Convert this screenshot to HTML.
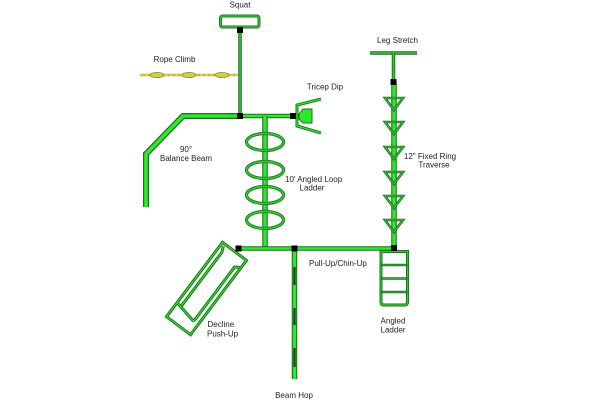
<!DOCTYPE html>
<html><head><meta charset="utf-8"><style>
html,body{margin:0;padding:0;background:#fff;}
svg{display:block;}
text{font-family:"Liberation Sans",Arial,sans-serif;font-size:8px;fill:#222;}
</style></head><body>
<svg width="600" height="400" viewBox="0 0 600 400" xmlns="http://www.w3.org/2000/svg">
<rect width="600" height="400" fill="#fff"/>

<!-- Rope climb -->
<line x1="140" y1="75" x2="240" y2="75" stroke="#b8b83a" stroke-width="2.5"/>
<line x1="140" y1="75" x2="240" y2="75" stroke="#e8e870" stroke-width="1" stroke-dasharray="3 2"/>
<g fill="#d0d048" stroke="#8f8f25" stroke-width="0.8">
<ellipse cx="157" cy="75" rx="7" ry="2.6"/>
<ellipse cx="189" cy="75" rx="7" ry="2.6"/>
<ellipse cx="222" cy="75" rx="7" ry="2.6"/>
</g>

<!-- Squat -->
<rect x="220.5" y="16" width="38.5" height="11" rx="2" fill="#fff" stroke="#1d6f1d" stroke-width="3"/>
<rect x="220.5" y="16" width="38.5" height="11" rx="2" fill="none" stroke="#3cc43c" stroke-width="1.2"/>
<line x1="240" y1="30" x2="240" y2="116" stroke="#1d6f1d" stroke-width="3.5"/>
<line x1="240" y1="30" x2="240" y2="116" stroke="#3cbf3c" stroke-width="1.6"/>

<!-- Balance beam + top horizontal -->
<polyline points="146,207 146,154 183,116 240,116" fill="none" stroke="#1a6e1a" stroke-width="6" stroke-linejoin="miter"/>
<polyline points="146,207 146,154 183,116 240,116" fill="none" stroke="#2ee82e" stroke-width="3.6" stroke-linejoin="miter"/>
<line x1="240" y1="116" x2="293" y2="116" stroke="#1a6e1a" stroke-width="4.5"/>
<line x1="240" y1="116" x2="293" y2="116" stroke="#2ee82e" stroke-width="2.4"/>

<!-- Loop ladder -->
<line x1="265" y1="116" x2="265" y2="248" stroke="#1a6e1a" stroke-width="5.5"/>
<line x1="265" y1="116" x2="265" y2="248" stroke="#2ee82e" stroke-width="3.4"/>
<g fill="none">
<g stroke="#1d7a1d" stroke-width="3.2">
<ellipse cx="265" cy="142" rx="18.5" ry="8.5"/>
<ellipse cx="265" cy="170" rx="18.5" ry="8.5"/>
<ellipse cx="265" cy="195" rx="18.5" ry="8.5"/>
<ellipse cx="265" cy="220" rx="18.5" ry="8.5"/>
</g>
<g stroke="#38cc38" stroke-width="1.4">
<ellipse cx="265" cy="142" rx="18.5" ry="8.5"/>
<ellipse cx="265" cy="170" rx="18.5" ry="8.5"/>
<ellipse cx="265" cy="195" rx="18.5" ry="8.5"/>
<ellipse cx="265" cy="220" rx="18.5" ry="8.5"/>
</g>
</g>

<!-- Tricep dip -->
<polyline points="321,99 297,105 297,126 321,133" fill="none" stroke="#1a6e1a" stroke-width="3"/>
<polyline points="321,99 297,105 297,126 321,133" fill="none" stroke="#2ee82e" stroke-width="1.2"/>
<path d="M299,114 L303,109 L312,109 L312,123 L303,123 L299,119 Z" fill="#2ee82e" stroke="#1a6e1a" stroke-width="1"/>

<!-- Bottom horizontal -->
<line x1="238" y1="248.5" x2="394" y2="248.5" stroke="#1a6e1a" stroke-width="4.5"/>
<line x1="238" y1="248.5" x2="394" y2="248.5" stroke="#2ee82e" stroke-width="2.4"/>

<!-- Leg stretch + ring traverse -->
<line x1="370" y1="53" x2="417" y2="53" stroke="#1a6e1a" stroke-width="3.5"/>
<line x1="370" y1="53" x2="417" y2="53" stroke="#3cc43c" stroke-width="1.6"/>
<line x1="393.5" y1="53" x2="393.5" y2="82" stroke="#1a6e1a" stroke-width="3.5"/>
<line x1="393.5" y1="53" x2="393.5" y2="82" stroke="#3cc43c" stroke-width="1.6"/>
<line x1="394" y1="82" x2="394" y2="248" stroke="#1a6e1a" stroke-width="5.5"/>
<line x1="394" y1="82" x2="394" y2="248" stroke="#2ee82e" stroke-width="3.4"/>
<g fill="none" stroke-linejoin="miter">
<g stroke="#1d6f1d" stroke-width="2.6">
<path d="M385,98 L403,98 L394,110 Z"/>
<path d="M385,122 L403,122 L394,134 Z"/>
<path d="M385,147 L403,147 L394,159 Z"/>
<path d="M385,172 L403,172 L394,184 Z"/>
<path d="M385,196 L403,196 L394,208 Z"/>
<path d="M385,220 L403,220 L394,232 Z"/>
</g>
<g stroke="#3cc43c" stroke-width="1">
<path d="M385,98 L403,98 L394,110 Z"/>
<path d="M385,122 L403,122 L394,134 Z"/>
<path d="M385,147 L403,147 L394,159 Z"/>
<path d="M385,172 L403,172 L394,184 Z"/>
<path d="M385,196 L403,196 L394,208 Z"/>
<path d="M385,220 L403,220 L394,232 Z"/>
</g>
</g>

<!-- Angled ladder -->
<path d="M381,251.5 L407.5,251.5 L407.5,302 Q407.5,305 404.5,305 L384,305 Q381,305 381,302 Z" fill="#fff" stroke="#1a6e1a" stroke-width="3"/>
<path d="M381,251.5 L407.5,251.5 L407.5,302 Q407.5,305 404.5,305 L384,305 Q381,305 381,302 Z" fill="none" stroke="#3cc43c" stroke-width="1.2"/>
<g stroke="#1f6a1f" stroke-width="2.4">
<line x1="381" y1="265" x2="407.5" y2="265"/>
<line x1="381" y1="278.5" x2="407.5" y2="278.5"/>
<line x1="381" y1="292" x2="407.5" y2="292"/>
</g>
<g stroke="#35b535" stroke-width="0.9">
<line x1="382" y1="265" x2="406.5" y2="265"/>
<line x1="382" y1="278.5" x2="406.5" y2="278.5"/>
<line x1="382" y1="292" x2="406.5" y2="292"/>
</g>

<!-- Beam hop -->
<line x1="294.5" y1="249" x2="294.5" y2="379" stroke="#1a6e1a" stroke-width="5.5"/>
<line x1="294.5" y1="249" x2="294.5" y2="379" stroke="#2ee82e" stroke-width="3.4"/>
<g stroke="#1a3f1a" stroke-width="2.2">
<line x1="294.5" y1="267" x2="294.5" y2="285"/>
<line x1="294.5" y1="308" x2="294.5" y2="325"/>
<line x1="294.5" y1="348" x2="294.5" y2="367"/>
</g>

<!-- Decline push-up -->
<g transform="translate(206.5,288.5) rotate(37)" fill="none">
<g stroke="#1a6e1a" stroke-width="3">
<rect x="-15" y="-46.5" width="30" height="93"/>
<path d="M-9.5,29 L-9.5,-38 L-12,-44"/>
<path d="M9.5,34 L9.5,-34 L14,-37"/>
<line x1="-15" y1="29" x2="9.5" y2="34"/>
</g>
<g stroke="#2ee82e" stroke-width="1.1">
<rect x="-15" y="-46.5" width="30" height="93"/>
<path d="M-9.5,29 L-9.5,-38 L-12,-44"/>
<path d="M9.5,34 L9.5,-34 L14,-37"/>
<line x1="-15" y1="29" x2="9.5" y2="34"/>
</g>
</g>

<!-- Junction squares -->
<g fill="#000">
<rect x="237" y="27" width="6" height="6"/>
<rect x="237" y="113" width="6" height="6"/>
<rect x="290" y="113" width="6" height="6"/>
<rect x="235.5" y="245.5" width="6" height="6"/>
<rect x="291.5" y="245.5" width="6" height="6"/>
<rect x="391" y="245" width="6" height="6"/>
<rect x="390.5" y="79" width="6" height="6"/>
</g>

<!-- Labels -->
<text x="240" y="7.5" text-anchor="middle">Squat</text>
<text x="174.5" y="62" text-anchor="middle">Rope Climb</text>
<text x="325" y="89.5" text-anchor="middle">Tricep Dip</text>
<text x="186" y="152" text-anchor="middle">90°</text>
<text x="186" y="161" text-anchor="middle">Balance Beam</text>
<text x="285" y="182">10' Angled Loop</text>
<text x="312" y="190.5" text-anchor="middle">Ladder</text>
<text x="397.5" y="43" text-anchor="middle">Leg Stretch</text>
<text x="430" y="159" text-anchor="middle">12" Fixed Ring</text>
<text x="434" y="167.5" text-anchor="middle">Traverse</text>
<text x="207.5" y="327">Decline</text>
<text x="207" y="336.5">Push-Up</text>
<text x="309" y="266">Pull-Up/Chin-Up</text>
<text x="393" y="323.5" text-anchor="middle">Angled</text>
<text x="393" y="332.5" text-anchor="middle">Ladder</text>
<text x="294" y="398" text-anchor="middle">Beam Hop</text>
</svg>
</body></html>
